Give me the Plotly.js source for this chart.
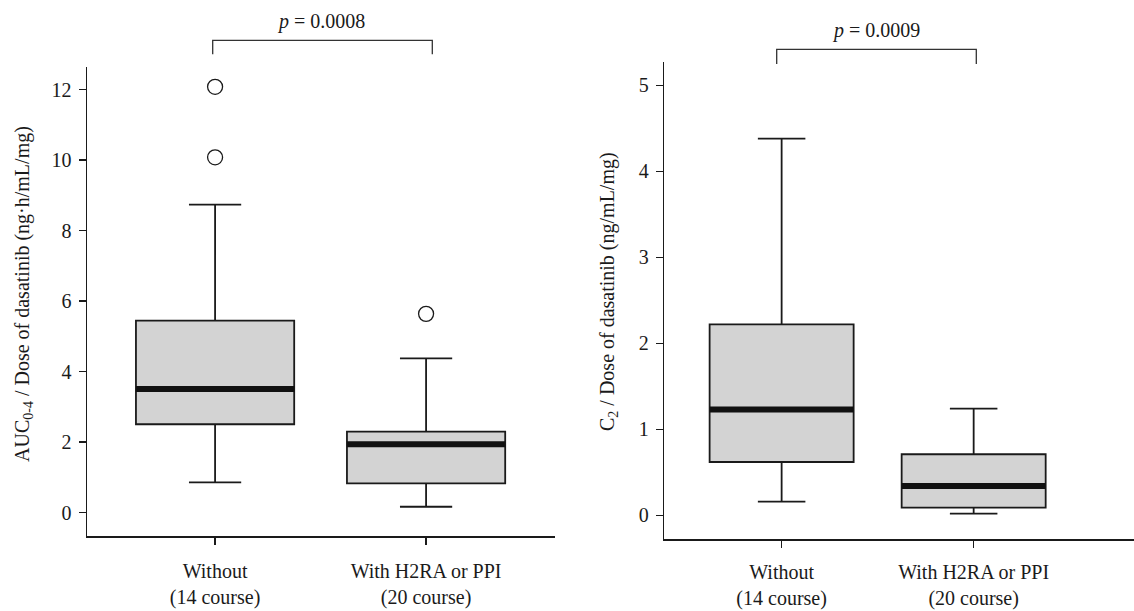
<!DOCTYPE html>
<html>
<head>
<meta charset="utf-8">
<script src="https://cdn.plot.ly/plotly-3.0.1.min.js"></script>
<style>html,body{margin:0;padding:0;background:#fff;}#chart{width:1134px;height:611px;}</style>
</head>
<body>
<div id="chart"></div>
<script>
// ---- data ----
const categories = ["Without<br>(14 course)", "With H2RA or PPI<br>(20 course)"];
const positions = [0, 1];

// Panel A: AUC0-4 / Dose
const aucLower  = [0.86, 0.17];
const aucQ1     = [2.51, 0.83];
const aucMedian = [3.51, 1.94];
const aucQ3     = [5.45, 2.30];
const aucUpper  = [8.74, 4.38];
const aucOutlierGroup = [0, 0, 1];
const aucOutlierValue = [12.08, 10.08, 5.64];
const aucP = "0.0008";

// Panel B: C2 / Dose
const c2Lower  = [0.16, 0.02];
const c2Q1     = [0.62, 0.09];
const c2Median = [1.23, 0.34];
const c2Q3     = [2.22, 0.71];
const c2Upper  = [4.38, 1.24];
const c2P = "0.0009";

// ---- style ----
const FONT = "'Liberation Serif', 'Times New Roman', Times, serif";
const INK = "#1a1a1a";
const BOXW = 0.75;
const W = 1134, H = 611;
const px = v => v / W;
const py = v => 1 - v / H;

function boxTrace(xa, ya, lo, q1, med, q3, up) {
  return {
    type: "box", xaxis: xa, yaxis: ya,
    x: positions, q1: q1, median: med, q3: q3,
    lowerfence: lo, upperfence: up,
    width: BOXW, whiskerwidth: 0.33,
    fillcolor: "#d3d3d3",
    line: {color: INK, width: 1.8},
    boxpoints: false, hoverinfo: "skip", showlegend: false
  };
}
function medianTrace(xa, ya, med) {
  const xs = [], ys = [];
  positions.forEach((p, i) => {
    xs.push(p - BOXW / 2, p + BOXW / 2, null);
    ys.push(med[i], med[i], null);
  });
  return {type: "scatter", mode: "lines", xaxis: xa, yaxis: ya, x: xs, y: ys,
          line: {color: "#111", width: 6}, hoverinfo: "skip", showlegend: false};
}

const traces = [
  boxTrace("x", "y", aucLower, aucQ1, aucMedian, aucQ3, aucUpper),
  medianTrace("x", "y", aucMedian),
  {type: "scatter", mode: "markers", xaxis: "x", yaxis: "y",
   x: aucOutlierGroup.map(g => positions[g]), y: aucOutlierValue,
   marker: {symbol: "circle-open", size: 15, color: INK, line: {width: 1.3, color: INK}},
   hoverinfo: "skip", showlegend: false},
  boxTrace("x2", "y2", c2Lower, c2Q1, c2Median, c2Q3, c2Upper),
  medianTrace("x2", "y2", c2Median)
];

const xCommon = {
  tickvals: positions, ticktext: categories,
  showline: true, linecolor: INK, linewidth: 1.5,
  ticks: "outside", ticklen: 7, tickwidth: 1.5, tickcolor: INK,
  showgrid: false, zeroline: false,
  tickfont: {family: FONT, size: 20, color: INK}
};
const yCommon = {
  showline: true, linecolor: INK, linewidth: 1.5,
  ticks: "outside", ticklen: 7, tickwidth: 1.5, tickcolor: INK,
  ticklabelstandoff: 3,
  showgrid: false, zeroline: false,
  tickfont: {family: FONT, size: 20, color: INK}
};

const layout = {
  width: W, height: H,
  margin: {l: 0, r: 0, t: 0, b: 0},
  paper_bgcolor: "#fff", plot_bgcolor: "#fff",
  font: {family: FONT, size: 20, color: INK},
  showlegend: false,
  xaxis: Object.assign({}, xCommon, {domain: [px(87), px(555)], range: [-0.607, 1.611], anchor: "y", ticklabelstandoff: 9}),
  yaxis: Object.assign({}, yCommon, {domain: [py(536), py(66.7)], range: [-0.66, 12.65], tickvals: [0,2,4,6,8,10,12], anchor: "x"}),
  xaxis2: Object.assign({}, xCommon, {domain: [px(664.3), 1], range: [-0.611, 1.835], anchor: "y2", ticklabelstandoff: 7}),
  yaxis2: Object.assign({}, yCommon, {domain: [py(539.3), py(62.3)], range: [-0.279, 5.267], tickvals: [0,1,2,3,4,5], anchor: "x2"}),
  annotations: [
    {text: "AUC<sub>0-4</sub> / Dose of dasatinib (ng·h/mL/mg)", textangle: -90,
     xref: "paper", yref: "paper", x: px(23), y: py(294), xanchor: "center", yanchor: "middle",
     showarrow: false, font: {family: FONT, size: 20, color: INK}},
    {text: "C<sub>2</sub> / Dose of dasatinib (ng/mL/mg)", textangle: -90,
     xref: "paper", yref: "paper", x: px(608), y: py(292), xanchor: "center", yanchor: "middle",
     showarrow: false, font: {family: FONT, size: 20, color: INK}},
    {text: "<i>p</i> = " + aucP, xref: "paper", yref: "paper", x: px(321), y: py(21),
     xanchor: "center", yanchor: "middle", showarrow: false, font: {family: FONT, size: 20, color: INK}},
    {text: "<i>p</i> = " + c2P, xref: "paper", yref: "paper", x: px(876), y: py(30),
     xanchor: "center", yanchor: "middle", showarrow: false, font: {family: FONT, size: 20, color: INK}}
  ],
  shapes: [
    {type: "path", xref: "paper", yref: "paper",
     path: `M ${px(212.7)} ${py(54.3)} L ${px(212.7)} ${py(40.3)} L ${px(432.3)} ${py(40.3)} L ${px(432.3)} ${py(54.3)}`,
     line: {color: "#333", width: 1.3}},
    {type: "path", xref: "paper", yref: "paper",
     path: `M ${px(776.7)} ${py(64)} L ${px(776.7)} ${py(49.3)} L ${px(976.3)} ${py(49.3)} L ${px(976.3)} ${py(64)}`,
     line: {color: "#333", width: 1.3}}
  ]
};

Plotly.newPlot("chart", traces, layout, {displayModeBar: false, staticPlot: true});
</script>
</body>
</html>
